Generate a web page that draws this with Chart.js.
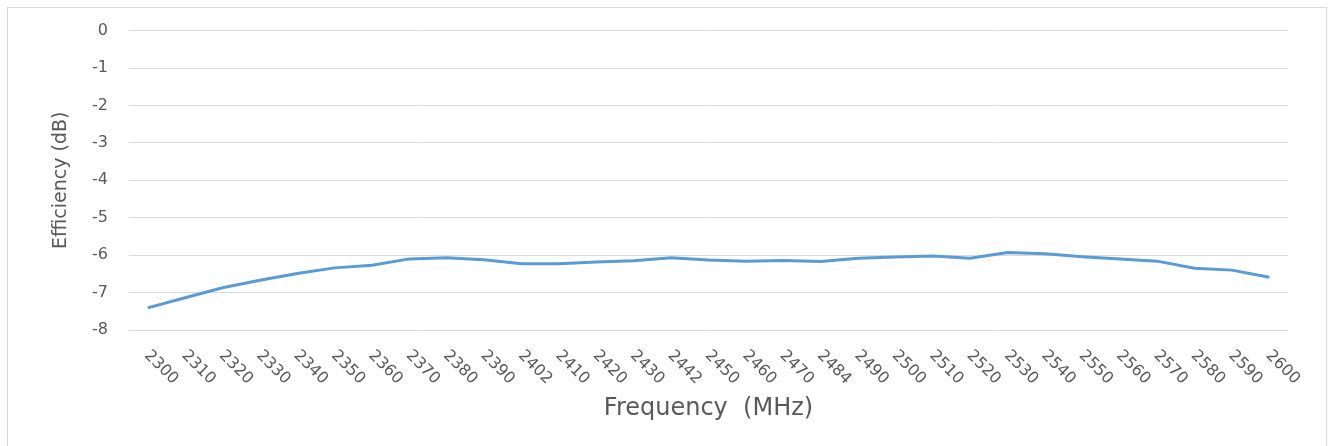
<!DOCTYPE html>
<html>
<head>
<meta charset="utf-8">
<script src="https://cdn.jsdelivr.net/npm/chart.js@4"></script>
<style>
  html, body { margin: 0; padding: 0; background: #fff; overflow: hidden; }
  #frame {
    position: absolute; left: 7px; top: 7px; width: 1320px; height: 460px;
    border: 1px solid #d9d9d9; box-sizing: border-box;
  }
  #wrap { position: absolute; left: 0; top: 0; width: 1337px; height: 446px; }
</style>
</head>
<body>
<div id="frame"></div>
<div id="wrap"><canvas id="myChart"></canvas></div>
<script>
const frequencies = ['2300', '2310', '2320', '2330', '2340', '2350', '2360', '2370', '2380', '2390',
    '2402', '2410', '2420', '2430', '2442', '2450', '2460', '2470', '2484', '2490',
    '2500', '2510', '2520', '2530', '2540', '2550', '2560', '2570', '2580', '2590', '2600'];
const efficiency = [-7.41, -7.14, -6.87, -6.67, -6.49, -6.34, -6.27, -6.10, -6.07, -6.12,
    -6.23, -6.23, -6.18, -6.15, -6.07, -6.13, -6.16, -6.14, -6.17, -6.08,
    -6.05, -6.02, -6.08, -5.93, -5.96, -6.04, -6.10, -6.16, -6.35, -6.40, -6.59];
const yTicks = [0, -1, -2, -3, -4, -5, -6, -7, -8];

const textColor = '#595959';

// x labels run down to the right, which chart.js can't do on its own
const slantedLabels = {
    id: 'slantedLabels',
    afterDraw(chart) {
        const ctx = chart.ctx;
        const x = chart.scales.x;
        ctx.save();
        ctx.font = '16px "DejaVu Sans"';
        ctx.fillStyle = textColor;
        ctx.textAlign = 'left';
        ctx.textBaseline = 'middle';
        frequencies.forEach((f, i) => {
            ctx.save();
            ctx.translate(x.getPixelForTick(i) - 1, 353);
            ctx.rotate(Math.PI / 4);
            ctx.fillText(f, 0, 0);
            ctx.restore();
        });
        ctx.restore();
    }
};

const ctx = document.getElementById('myChart').getContext('2d');
const myChart = new Chart(ctx, {
    type: 'line',
    data: {
        labels: frequencies,
        datasets: [{
            label: 'Efficiency',
            data: efficiency,
            borderColor: '#5b9bd5',
            borderWidth: 3,
            pointRadius: 0,
            tension: 0,
            fill: false
        }]
    },
    options: {
        responsive: true,
        maintainAspectRatio: false,
        animation: false,
        layout: {
            padding: { top: 30, right: 49, left: 0, bottom: 0 }
        },
        scales: {
            x: {
                offset: true,
                grid: { display: false },
                border: { display: false },
                ticks: { display: false },
                title: {
                    display: true,
                    text: 'Frequency  (MHz)',
                    color: textColor,
                    font: { family: 'DejaVu Sans', size: 24 },
                    padding: { top: 0, bottom: 23 }
                },
                afterFit: s => { s.height = 116; }
            },
            y: {
                min: -8,
                max: 0,
                afterBuildTicks: s => { s.ticks = yTicks.map(v => ({ value: v })); },
                grid: { color: '#d9d9d9', lineWidth: 1, drawTicks: false },
                border: { display: false },
                ticks: {
                    color: textColor,
                    padding: 21,
                    font: { family: 'DejaVu Sans', size: 16 }
                },
                title: {
                    display: true,
                    text: 'Efficiency (dB)',
                    color: textColor,
                    font: { family: 'DejaVu Sans', size: 19 },
                    padding: { top: 50, bottom: 0 }
                },
                afterFit: s => { s.width = 129; }
            }
        },
        plugins: {
            legend: { display: false },
            tooltip: { enabled: false }
        }
    },
    plugins: [slantedLabels]
});
</script>
</body>
</html>
